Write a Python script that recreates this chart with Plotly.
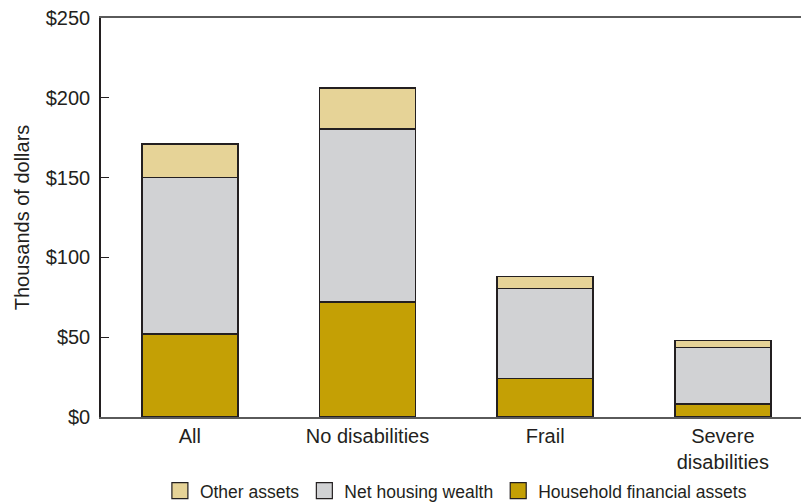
import plotly.graph_objects as go

categories = ["All", "No disabilities", "Frail", "Severe<br>disabilities"]
financial = [52, 72, 24, 8]
housing = [98, 108.5, 56.5, 35.5]
other = [21, 25.5, 7.5, 4.5]
y_ticks = [0, 50, 100, 150, 200, 250]
y_tick_labels = ["$0", "$50", "$100", "$150", "$200", "$250"]

FONT = "Liberation Sans, Arial, sans-serif"
EDGE = dict(color="#231F20", width=1.5)
COLORS = {"Household financial assets": "#C4A005",
          "Net housing wealth": "#D1D2D4",
          "Other assets": "#E6D397"}

fig = go.Figure()
for name, vals in [("Household financial assets", financial),
                   ("Net housing wealth", housing),
                   ("Other assets", other)]:
    fig.add_trace(go.Bar(x=categories, y=vals, name=name, showlegend=False,
                         marker=dict(color=COLORS[name], line=EDGE)))

# legend entries with larger square swatches
for name in ["Other assets", "Net housing wealth", "Household financial assets"]:
    fig.add_trace(go.Scatter(x=[None], y=[None], mode="markers", name=name,
                             marker=dict(symbol="square", size=16, color=COLORS[name],
                                         line=dict(color="#231F20", width=1.2))))

fig.update_layout(
    barmode="stack",
    bargap=0.46,
    width=801, height=504,
    margin=dict(l=101, r=0, t=18, b=87, autoexpand=False),
    paper_bgcolor="white", plot_bgcolor="white",
    font=dict(family=FONT, size=20, color="#231F20"),
    showlegend=True,
    legend=dict(orientation="h", traceorder="normal", x=0.507, xanchor="center",
                y=-0.185, yanchor="middle", font=dict(size=17.5), itemwidth=30),
    xaxis=dict(range=[-0.5, 3.44], showline=True, linecolor="#5a5a5a", linewidth=2,
               mirror=True, ticks="", showgrid=False, zeroline=False, automargin=False,
               tickfont=dict(size=20)),
    yaxis=dict(range=[0, 250], tickvals=y_ticks, ticktext=y_tick_labels,
               showline=True, linecolor="#231F20", linewidth=1.5, ticks="inside",
               ticklen=8, tickcolor="#231F20", showgrid=False, zeroline=False,
               automargin=False,
               ticklabelstandoff=5, tickfont=dict(size=20),
               title=dict(text="Thousands of dollars", font=dict(size=20), standoff=11)),
)

fig.write_html("out.html", config={"displayModeBar": False},
               post_script="document.body.style.margin='0';")
